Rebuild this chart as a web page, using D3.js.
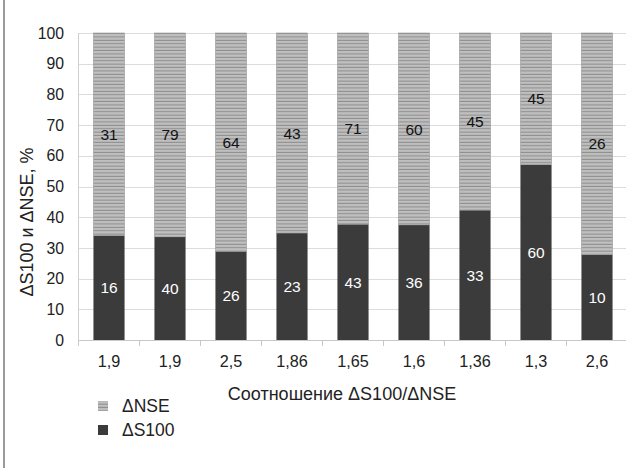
<!DOCTYPE html>
<html>
<head>
<meta charset="utf-8">
<script src="https://cdn.jsdelivr.net/npm/d3@7"></script>
<style>
  html, body { margin: 0; padding: 0; background: #fff; }
  svg { display: block; font-family: "Liberation Sans", Arial, sans-serif; }
</style>
</head>
<body>
<svg id="chart" width="626" height="468"></svg>
<script>
// Ratio ΔS100/ΔNSE for each group (category labels)
const categories = ["1,9", "1,9", "2,5", "1,86", "1,65", "1,6", "1,36", "1,3", "2,6"];
// Absolute values of each component
const s100Values = [16, 40, 26, 23, 43, 36, 33, 60, 10];
const nseValues  = [31, 79, 64, 43, 71, 60, 45, 45, 26];
const yTicks = [0, 10, 20, 30, 40, 50, 60, 70, 80, 90, 100];
const seriesNames = ["ΔNSE", "ΔS100"];

const svg = d3.select("#chart");
const W = 626, H = 468;
const left = 78.5;

const x = d3.scaleBand()
  .domain(d3.range(categories.length))
  .range([left, left + 549])
  .paddingInner(0.49)
  .paddingOuter(0.245);

const y = d3.scaleLinear().domain([0, 100]).range([340, 33]);

// stripe pattern for ΔNSE
const defs = svg.append("defs");
const pat = defs.append("pattern")
  .attr("id", "stripes")
  .attr("patternUnits", "userSpaceOnUse")
  .attr("width", 8).attr("height", 3.4);
pat.append("rect").attr("width", 8).attr("height", 3.4).attr("fill", "#bfbfbf");
pat.append("rect").attr("y", 2.4).attr("width", 8).attr("height", 1).attr("fill", "#8c8c8c");

// left page border
svg.append("rect").attr("x", 3).attr("y", 0).attr("width", 2).attr("height", H).attr("fill", "#9a9a9a");

// gridlines
svg.append("g").selectAll("line").data(yTicks.filter(d => d > 0)).join("line")
  .attr("x1", left).attr("x2", W)
  .attr("y1", d => Math.round(y(d)) + 0.5).attr("y2", d => Math.round(y(d)) + 0.5)
  .attr("stroke", "#dcdcdc").attr("stroke-width", 1);

// y axis line
svg.append("line")
  .attr("x1", left).attr("x2", left)
  .attr("y1", y(100)).attr("y2", y(0))
  .attr("stroke", "#d0d0d0");

// y tick labels
svg.append("g").selectAll("text").data(yTicks).join("text")
  .attr("x", 64).attr("y", d => y(d))
  .attr("dy", "0.36em")
  .attr("text-anchor", "end")
  .attr("font-size", 15.8)
  .attr("fill", "#222")
  .text(d => d);

// stacked percentages
const data = categories.map((c, i) => {
  const tot = s100Values[i] + nseValues[i];
  return { i, s: s100Values[i], n: nseValues[i], sp: 100 * s100Values[i] / tot };
});

const bars = svg.append("g");
// ΔS100 segment
bars.selectAll("rect.s").data(data).join("rect")
  .attr("class", "s")
  .attr("x", d => x(d.i)).attr("width", x.bandwidth())
  .attr("y", d => y(d.sp)).attr("height", d => y(0) - y(d.sp))
  .attr("fill", "#3b3b3b");
// ΔNSE segment
bars.selectAll("rect.n").data(data).join("rect")
  .attr("class", "n")
  .attr("x", d => x(d.i)).attr("width", x.bandwidth())
  .attr("y", y(100)).attr("height", d => y(d.sp) - y(100))
  .attr("fill", "url(#stripes)")
  .attr("stroke", "#9a9a9a").attr("stroke-width", 0.6);

// x axis baseline and ticks
svg.append("line")
  .attr("x1", left).attr("x2", W)
  .attr("y1", y(0) + 0.5).attr("y2", y(0) + 0.5)
  .attr("stroke", "#c8c8c8");
const bounds = d3.range(categories.length + 1).map(i => left + i * x.step());
svg.append("g").selectAll("line").data(bounds).join("line")
  .attr("x1", d => d).attr("x2", d => d)
  .attr("y1", y(0)).attr("y2", y(0) + 6)
  .attr("stroke", "#c8c8c8");

// value labels
svg.append("g").selectAll("text").data(data).join("text")
  .attr("x", d => x(d.i) + x.bandwidth() / 2)
  .attr("y", d => y(d.sp / 2))
  .attr("dy", "0.36em").attr("text-anchor", "middle")
  .attr("font-size", 15.5).attr("fill", "#fff")
  .text(d => d.s);
svg.append("g").selectAll("text").data(data).join("text")
  .attr("x", d => x(d.i) + x.bandwidth() / 2)
  .attr("y", d => y((d.sp + 100) / 2))
  .attr("dy", "0.36em").attr("text-anchor", "middle")
  .attr("font-size", 15.5).attr("fill", "#111")
  .text(d => d.n);

// x tick labels
svg.append("g").selectAll("text").data(categories).join("text")
  .attr("x", (d, i) => x(i) + x.bandwidth() / 2)
  .attr("y", 361)
  .attr("dy", "0.36em").attr("text-anchor", "middle")
  .attr("font-size", 16.2).attr("fill", "#222")
  .text(d => d);

// axis titles
svg.append("text")
  .attr("x", 342).attr("y", 394).attr("dy", "0.36em")
  .attr("text-anchor", "middle").attr("font-size", 18).attr("fill", "#222")
  .text("Соотношение ΔS100/ΔNSE");
svg.append("text")
  .attr("transform", "rotate(-90)")
  .attr("x", -222).attr("y", 33)
  .attr("text-anchor", "middle").attr("font-size", 18).attr("fill", "#222")
  .text("ΔS100 и ΔNSE, %");

// legend
const leg = svg.append("g");
const legFills = ["url(#stripes)", "#3b3b3b"];
seriesNames.forEach((name, i) => {
  const ly = 406 + i * 24;
  leg.append("rect").attr("x", 98).attr("y", ly - 5).attr("width", 10).attr("height", 10)
    .attr("fill", legFills[i]);
  leg.append("text").attr("x", 122).attr("y", ly).attr("dy", "0.36em")
    .attr("font-size", 17.5).attr("fill", "#222").text(name);
});
</script>
</body>
</html>
